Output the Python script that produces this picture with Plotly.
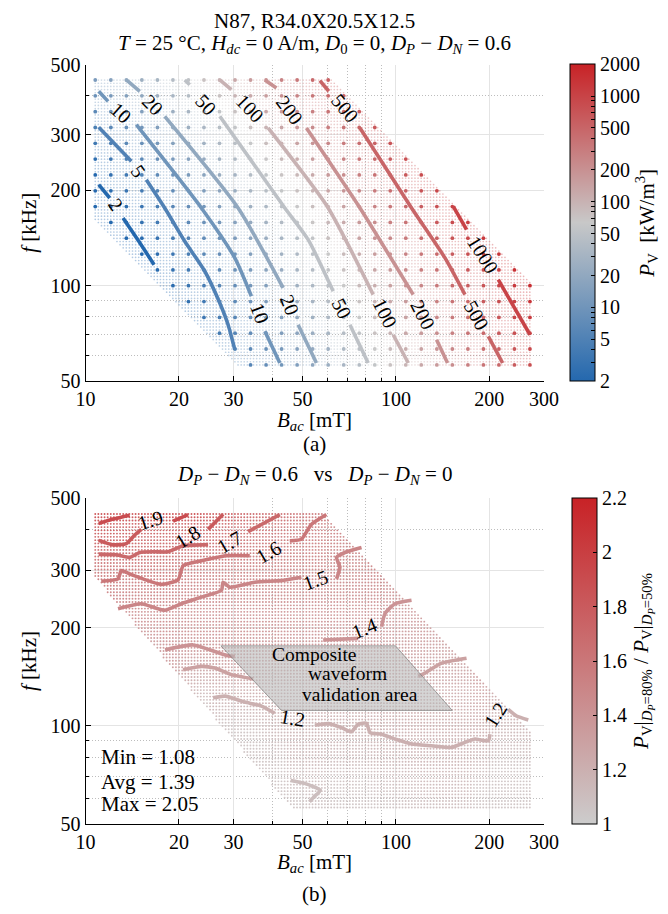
import numpy as np
import plotly.graph_objects as go

f_meas_kHz = [446.7, 398.1, 354.8, 316.2, 281.8, 251.2, 223.9, 199.5, 177.8, 158.5,
              141.3, 125.9, 112.2, 100.0, 89.1, 79.4, 70.8, 63.1, 56.2]
B_meas_mT = [10.75, 12.07, 13.54, 15.19, 17.05, 19.13, 21.46, 24.08, 27.02, 30.32,
             34.02, 38.17, 42.83, 48.06, 53.92, 60.5, 67.9, 76.2, 85.5, 95.9,
             107.6, 120.7, 135.5, 152.0, 170.6, 191.4, 214.7, 240.9, 270.3]
row_first_col = [0, 0, 0, 0, 0, 0, 0, 0, 0, 1, 2, 3, 4, 5, 6, 7, 8, 9, 10]
row_last_col = [15, 16, 17, 18, 19, 20, 21, 22, 23, 24, 25, 26, 27, 28, 28, 28, 28, 28, 28]

# iso-loss lines of (a): visible segments, B [mT] / f [kHz]
pv_levels = [2, 5, 10, 20, 50, 100, 200, 500, 1000]
pv2_B = [[11.03, 11.97], [13.21, 14.85, 16.63]]
pv2_f = [[208.6, 189.3], [163.7, 138.2, 116.5]]
pv5_B = [[11.03, 14.05], [15.70, 18.0, 20.88, 24.23, 27.08, 28.8, 30.27]]
pv5_f = [[316.7, 247.4], [216.3, 176.1, 138.2, 111.1, 88.2, 75.3, 62.8]]
pv10_B = [[11.03, 11.82], [14.58, 23.62, 30.27, 34.23], [37.83, 42.27]]
pv10_f = [[411.5, 382.4], [322.7, 176.1, 122.4, 92.6], [71.8, 57.0]]
pv20_B = [[13.54, 14.96], [18.0, 31.02, 43.33], [48.42, 55.46]]
pv20_f = [[446.7, 411.5], [343.0, 176.1, 98.4], [75.3, 57.0]]
pv50_B = [[20.88, 21.67], [27.08, 43.87, 52.16, 62.8], [71.1, 81.4]]
pv50_f = [[446.7, 431.7], [343.0, 176.1, 139.8, 96.0], [75.3, 57.0]]
pv100_B = [[27.08, 29.51], [38.75, 60.5, 84.5], [98.0, 109.6]]
pv100_f = [[446.7, 416.3], [315.1, 176.1, 93.7], [70.0, 57.0]]
pv200_B = [[37.83, 41.22], [51.5, 76.6, 113.7], [135.2, 146.7]]
pv200_f = [[446.7, 421.5], [315.1, 176.1, 93.7], [67.5, 57.0]]
pv500_B = [[56.9, 60.8], [76.6, 112.3, 143.9, 166.9], [198.5, 220.7]]
pv500_f = [[444.4, 411.5], [315.1, 176.1, 122.4, 93.7], [69.2, 57.0]]
pv1000_B = [[153.0, 168.9], [213.7, 270.4]]
pv1000_f = [[178.2, 150.3], [104.5, 70.0]]

pv_label_text = ["2", "5", "10", "10", "20", "20", "50", "50", "100", "100",
                 "200", "200", "500", "500", "1000"]
pv_label_B = [12.57, 14.77, 13.04, 36.45, 16.51, 45.54, 24.51, 66.8, 33.82, 92.2,
              45.54, 122.5, 68.5, 181.9, 191.2]
pv_label_f = [180.3, 229.9, 351.4, 82.0, 373.3, 87.1, 373.3, 85.05, 364.4, 82.0,
              359.9, 81.0, 364.4, 81.0, 125.3]

# ---------------- (b) loss-ratio lines ----------------
ratio_levels = [1.1, 1.2, 1.3, 1.4, 1.5, 1.6, 1.7, 1.8, 1.9]
r11_B = [[45.8, 51.1, 57.1, 54.4, 52.7]]
r11_f = [[68.0, 66.5, 63.4, 60.5, 58.5]]
r12_B = [[25.76, 28.13, 32.6, 36.9, 40.7],
         [54.8, 60.5, 66.8, 71.9, 75.6, 80.4, 82.5, 89.9, 99.3, 112.3, 130.3, 151.1,
          166.9, 179.8, 198.5, 200.9],
         [230.1, 244.8, 267.0]]
r12_f = [[121.9, 123.4, 118.3, 115.0, 109.3],
         [100.5, 101.6, 98.8, 95.9, 101.2, 101.9, 95.4, 94.3, 91.1, 88.0, 86.9, 85.9,
          89.0, 91.1, 90.0, 94.3],
         [112.4, 107.2, 104.3]]
r13_B = [[20.62, 23.62, 26.1, 29.5, 34.7], [118.0, 124.0, 140.3, 168.9]]
r13_f = [[148.7, 152.2, 150.4, 143.6, 139.3], [141.9, 145.2, 155.7, 161.3]]
r14_B = [[18.04, 22.22, 28.13, 30.27], [58.3, 75.6], [89.9, 92.2, 99.3, 112.3]]
r14_f = [[171.0, 177.1, 165.1, 163.2], [183.4, 185.5], [201.4, 221.0, 236.9, 242.7]]
r15_B = [[12.73, 15.13, 18.0, 20.36, 23.62, 27.41, 27.75, 29.17, 35.1, 42.78, 49.6],
         [64.4, 66.0, 64.4, 68.5, 77.5]]
r15_f = [[228.8, 236.9, 226.2, 236.9, 248.3, 260.3, 275.8, 266.3, 275.8, 279.1, 285.6],
         [282.3, 306.4, 328.6, 340.3, 352.4]]
r16_B = [[11.24, 12.73, 13.04, 14.05, 17.55, 19.87, 20.62, 22.22, 28.44, 33.82],
         [45.5, 49.6, 53.4, 59.7]]
r16_f = [[277.8, 282.3, 299.5, 291.1, 271.5, 280.3, 310.0, 317.2, 332.5, 332.5],
         [369.3, 373.5, 414.7, 444.8]]
r17_B = [[11.03, 12.54, 13.88, 14.96, 16.72, 18.45, 20.62, 24.83], [33.41, 42.27]]
r17_f = [[336.3, 334.9, 328.6, 340.3, 342.0, 342.0, 356.6, 359.8], [394.2, 444.8]]
r18_B = [[11.03, 12.27, 13.54, 14.41, 15.13], [24.83, 27.75]]
r18_f = [[370.8, 359.1, 362.4, 385.1, 400.6], [400.6, 446.0]]
r19_B = [[11.03, 12.36, 13.88], [19.15, 21.4]]
r19_f = [[417.7, 431.7, 443.0], [424.9, 444.8]]

ratio_label_text = ["1.9", "1.8", "1.7", "1.6", "1.5", "1.4", "1.2", "1.2"]
ratio_label_B = [16.2, 21.3, 29.2, 39.0, 55.0, 79.5, 46.5, 209.0]
ratio_label_f = [427.0, 380.0, 367.0, 342.0, 281.0, 199.0, 105.5, 108.0]

validation_B = [27.3, 99.7, 151.9, 42.8]
validation_f = [176.0, 176.0, 111.5, 111.5]

ratio_min, ratio_avg, ratio_max = 1.08, 1.39, 2.05

# ---------------- styling helpers ----------------
W, H = 668, 914
FONT = "Liberation Serif"
TICK = dict(family=FONT, size=20, color="black")
TXT = dict(family=FONT, size=21, color="black")
SMALL = dict(family=FONT, size=19.5, color="black")
TOP_Y = (56.5, 373.0)     # pixel rows of 500 / 50 kHz, panel (a)
BOT_Y = (490.0, 816.0)    # pixel rows of 500 / 50 kHz, panel (b)

cs_top = [[0.0, "rgb(36,104,174)"], [0.5, "rgb(200,200,200)"], [1.0, "rgb(200,34,38)"]]
cs_bot = [[0.0, "rgb(204,204,204)"], [1.0, "rgb(200,34,38)"]]


def cs_color(cs, t):
    t = min(max(t, 0.0), 1.0)
    for (t0, c0), (t1, c1) in zip(cs[:-1], cs[1:]):
        if t <= t1:
            a = np.array([float(v) for v in c0[4:-1].split(",")])
            b = np.array([float(v) for v in c1[4:-1].split(",")])
            u = 0 if t1 == t0 else (t - t0) / (t1 - t0)
            c = a + (b - a) * u
            return "rgb(%d,%d,%d)" % tuple(np.round(c))
    return cs[-1][1]


def flat(segs):
    return np.concatenate([np.asarray(s, float) for s in segs])


def joined(segs):
    out = []
    for i, s in enumerate(segs):
        if i:
            out.append(None)
        out.extend(s)
    return out


def extrap(x, xp, fp, slope0, lim):
    x = np.asarray(x, float)
    if len(xp) == 0:
        return np.full_like(x, np.nan)
    xp = np.asarray(xp, float)
    fp = np.asarray(fp, float)
    o = np.argsort(xp)
    xp, fp = xp[o], fp[o]
    if len(xp) == 1:
        return fp[0] + slope0 * (x - xp[0])
    y = np.interp(x, xp, fp)
    sl = (fp[1] - fp[0]) / max(xp[1] - xp[0], 1e-6)
    sr = (fp[-1] - fp[-2]) / max(xp[-1] - xp[-2], 1e-6)
    sl = min(max(sl, lim[0]), lim[1])
    sr = min(max(sr, lim[0]), lim[1])
    y = np.where(x < xp[0], fp[0] + sl * (x - xp[0]), y)
    y = np.where(x > xp[-1], fp[-1] + sr * (x - xp[-1]), y)
    return y


pv_B_all = [pv2_B, pv5_B, pv10_B, pv20_B, pv50_B, pv100_B, pv200_B, pv500_B, pv1000_B]
pv_f_all = [pv2_f, pv5_f, pv10_f, pv20_f, pv50_f, pv100_f, pv200_f, pv500_f, pv1000_f]
r_B_all = [r11_B, r12_B, r13_B, r14_B, r15_B, r16_B, r17_B, r18_B, r19_B]
r_f_all = [r11_f, r12_f, r13_f, r14_f, r15_f, r16_f, r17_f, r18_f, r19_f]

top_lines = []
for lvl, sb, sf in zip(pv_levels, pv_B_all, pv_f_all):
    b, f = list(flat(sb)), list(flat(sf))
    for t, lb, lf in zip(pv_label_text, pv_label_B, pv_label_f):
        if t == str(lvl):
            b.append(lb); f.append(lf)
    lb_, lf_ = np.log10(b), np.log10(f)
    o = np.argsort(lf_)
    top_lines.append((np.log10(lvl), lb_[o], lf_[o]))

bot_lines = []
for lvl, sb, sf in zip(ratio_levels, r_B_all, r_f_all):
    b, f = list(flat(sb)), list(flat(sf))
    for t, lb, lf in zip(ratio_label_text, ratio_label_B, ratio_label_f):
        if t == "%.1f" % lvl:
            b.append(lb); f.append(lf)
    lb_, lf_ = np.log10(b), np.log10(f)
    o = np.argsort(lb_)
    bot_lines.append((lvl, lb_[o], lf_[o]))


def top_logpv(lf, lB):
    xs, ys = [], []
    for ll, lb, lff in top_lines:
        if lff[0] - 0.025 <= lf <= lff[-1] + 0.025:
            xs.append(np.interp(lf, lff, lb)); ys.append(ll)
    return extrap(lB, xs, ys, 2.4, (1.8, 3.2))


def bot_ratio(lB, lf):
    xs, ys = [], []
    for lvl, lb, lff in bot_lines:
        if lb[0] - 0.015 <= lB <= lb[-1] + 0.015:
            xs.append(np.interp(lB, lb, lff)); ys.append(lvl)
    if not xs:
        return np.full_like(np.asarray(lf, float), 1.3)
    return np.clip(extrap(lf, xs, ys, 0.8, (0.3, 3.0)), ratio_min, ratio_max)


# ---------------- tables for the library ----------------
bx, by, bz = [], [], []
for r, fv in enumerate(f_meas_kHz):
    cols = list(range(row_first_col[r], row_last_col[r] + 1))
    Bs = np.array([B_meas_mT[c] for c in cols])
    z = top_logpv(np.log10(fv), np.log10(Bs))
    bx += list(Bs); by += [fv] * len(cols); bz += list(z)

lB_mesh = np.arange(np.log10(B_meas_mT[0]), np.log10(B_meas_mT[-1]) + 1e-9, 0.01)
lf_mesh = np.arange(np.log10(f_meas_kHz[-1]), np.log10(f_meas_kHz[0]) + 1e-9, 0.01)
LBm, LFm = np.meshgrid(lB_mesh, lf_mesh)
s = LBm + LFm
mask_a = (s >= np.log10(B_meas_mT[10] * f_meas_kHz[-1]) - 0.05) & \
         (s <= np.log10(B_meas_mT[15] * f_meas_kHz[0]) + 0.015)
za = np.zeros_like(LBm)
for i, lf in enumerate(lf_mesh):
    za[i] = top_logpv(lf, lB_mesh)

p1 = (np.log10(11.25), np.log10(272.8))
p2 = (np.log10(40.7), np.log10(65.2))
slope_ll = (p2[1] - p1[1]) / (p2[0] - p1[0])
mask_b = (LFm >= p1[1] + slope_ll * (LBm - p1[0]) - 0.004) & (s <= 4.42)
zb = np.zeros_like(LBm)
for j, lB in enumerate(lB_mesh):
    zb[:, j] = bot_ratio(lB, lf_mesh)

# ---------------- figure ----------------
fig = go.Figure()
top_ax = dict(xaxis="x", yaxis="y")
bot_ax = dict(xaxis="x2", yaxis="y2")

fig.add_trace(go.Scatter(
    x=10 ** LBm[mask_a], y=10 ** LFm[mask_a], mode="markers", hoverinfo="skip",
    marker=dict(size=1.7, color=za[mask_a], colorscale=cs_top, cmin=np.log10(2),
                cmax=np.log10(2000), opacity=0.35, line=dict(width=0)),
    showlegend=False, **top_ax))

cb_major = [2, 5, 10, 20, 50, 100, 200, 500, 1000, 2000]
cb_minor = [3, 4, 6, 7, 8, 9, 30, 40, 60, 70, 80, 90, 300, 400, 600, 700, 800, 900]
fig.add_trace(go.Scatter(
    x=bx, y=by, mode="markers", hoverinfo="skip", showlegend=False,
    marker=dict(size=3.8, color=bz, colorscale=cs_top, cmin=np.log10(2),
                cmax=np.log10(2000), line=dict(width=0),
                colorbar=dict(
                    x=562 / W, xanchor="left", y=1 - sum(TOP_Y) / 2 / H, yanchor="middle",
                    len=(TOP_Y[1] - TOP_Y[0]) / H, lenmode="fraction", thickness=25,
                    xpad=0, ypad=0, outlinewidth=1, outlinecolor="black",
                    tickvals=list(np.log10(cb_major + cb_minor)),
                    ticktext=[str(v) for v in cb_major] + [" "] * len(cb_minor),
                    ticks="inside", ticklen=4, tickcolor="black", tickfont=TICK,
                    title=dict(text="<i>P</i><sub>V</sub>  [kW/m<sup>3</sup>]",
                               side="right", font=TXT))),
    **top_ax))

for lvl, sb, sf in zip(pv_levels, pv_B_all, pv_f_all):
    col = cs_color(cs_top, (np.log10(lvl) - np.log10(2)) / 3.0)
    fig.add_trace(go.Scatter(x=joined(sb), y=joined(sf), mode="lines", hoverinfo="skip",
                             line=dict(color=col, width=3.6, shape="spline", smoothing=0.6),
                             showlegend=False, **top_ax))

fig.add_trace(go.Scatter(
    x=10 ** LBm[mask_b], y=10 ** LFm[mask_b], mode="markers", hoverinfo="skip",
    showlegend=False,
    marker=dict(size=1.9, color=zb[mask_b], colorscale=cs_bot, cmin=1, cmax=2.2,
                opacity=0.9, line=dict(width=0),
                colorbar=dict(
                    x=564 / W, xanchor="left", y=1 - sum(BOT_Y) / 2 / H, yanchor="middle",
                    len=(BOT_Y[1] - BOT_Y[0]) / H, lenmode="fraction", thickness=25,
                    xpad=0, ypad=0, outlinewidth=1, outlinecolor="black",
                    tickvals=[1, 1.2, 1.4, 1.6, 1.8, 2, 2.2],
                    ticktext=["1", "1.2", "1.4", "1.6", "1.8", "2", "2.2"],
                    ticks="inside", ticklen=4, tickcolor="black", tickfont=TICK,
                    title=dict(text="<i>P</i><sub>V</sub>|<sub><i>D<sub>P</sub></i>=80%</sub>"
                                    " / <i>P</i><sub>V</sub>|<sub><i>D<sub>P</sub></i>=50%</sub>",
                               side="right", font=TXT))),
    **bot_ax))

for lvl, sb, sf in zip(ratio_levels, r_B_all, r_f_all):
    col = cs_color(cs_bot, (lvl - 1.0) / 1.2)
    fig.add_trace(go.Scatter(x=joined(sb), y=joined(sf), mode="lines", hoverinfo="skip",
                             line=dict(color=col, width=3.6, shape="spline", smoothing=0.5),
                             showlegend=False, **bot_ax))

fig.add_trace(go.Scatter(
    x=validation_B + [validation_B[0]], y=validation_f + [validation_f[0]],
    mode="lines", fill="toself", fillcolor="rgba(185,185,185,0.6)",
    line=dict(color="rgba(120,120,120,0.8)", width=0.8), hoverinfo="skip",
    showlegend=False, **bot_ax))

# ---------------- axes ----------------
GRID_MINOR = dict(ticks="inside", ticklen=3, tickcolor="black", showgrid=True,
                  gridcolor="#bdbdbd", griddash="1px,2px", gridwidth=1)


def xax(anchor):
    return dict(type="log", range=[1, np.log10(300)], domain=[77.5 / W, 536 / W],
                anchor=anchor, tickvals=[10, 20, 30, 50, 100, 200, 300],
                ticktext=["10", "20", "30", "50", "100", "200", "300"],
                ticks="inside", ticklen=5, tickcolor="black", tickfont=TICK,
                showline=True, linecolor="black", linewidth=1, mirror=False,
                showgrid=True, gridcolor="#e4e4e4", gridwidth=1, zeroline=False,
                automargin=False,
                minor=dict(tickvals=[40, 60, 70, 80, 90], **GRID_MINOR))


def yax(anchor, rows):
    return dict(type="log", range=[np.log10(50), np.log10(500)],
                domain=[1 - rows[1] / H, 1 - rows[0] / H],
                anchor=anchor, tickvals=[50, 100, 200, 300, 500],
                ticktext=["50", "100", "200", "300", "500"],
                ticks="inside", ticklen=5, tickcolor="black", tickfont=TICK,
                showline=True, linecolor="black", linewidth=1, mirror=False,
                showgrid=True, gridcolor="#e4e4e4", gridwidth=1, zeroline=False,
                automargin=False,
                minor=dict(tickvals=[60, 70, 80, 90, 400], **GRID_MINOR))


ann = []
for t, b, f, a in zip(pv_label_text, pv_label_B, pv_label_f,
                      [56, 55, 42, 69, 45, 68, 47, 63, 46, 63, 53, 63, 50, 61, 58]):
    ann.append(dict(x=np.log10(b), y=np.log10(f), xref="x", yref="y", text=t,
                    textangle=a, showarrow=False, font=TICK))
for t, b, f, a in zip(ratio_label_text, ratio_label_B, ratio_label_f,
                      [-18, -32, -30, -30, -20, -22, 10, -58]):
    ann.append(dict(x=np.log10(b), y=np.log10(f), xref="x2", yref="y2", text=t,
                    textangle=a, showarrow=False, font=TICK))


def txt(text, xpx, ypx, angle=0, xanchor="center", font=TXT):
    ann.append(dict(x=xpx / W, y=1 - ypx / H, xref="paper", yref="paper", text=text,
                    showarrow=False, textangle=angle, xanchor=xanchor, yanchor="middle",
                    font=font))


def txt_b(text, B, f, xanchor="center", font=TXT):
    ann.append(dict(x=np.log10(B), y=np.log10(f), xref="x2", yref="y2", text=text,
                    showarrow=False, xanchor=xanchor, yanchor="middle", font=font))


txt("N87, R34.0X20.5X12.5", 306.8, 13)
txt("<i>T</i> = 25 °C, <i>H</i><sub><i>dc</i></sub> = 0 A/m, <i>D</i><sub>0</sub> = 0, "
    "<i>D<sub>P</sub></i> − <i>D<sub>N</sub></i> = 0.6", 306.8, 36)
txt("<i>f</i> [kHz]", 21, sum(TOP_Y) / 2, -90)
txt("<i>B</i><sub><i>ac</i></sub> [mT]", 306.8, 413)
txt("(a)", 306.8, 436)
txt("<i>D<sub>P</sub></i> − <i>D<sub>N</sub></i> = 0.6   vs   "
    "<i>D<sub>P</sub></i> − <i>D<sub>N</sub></i> = 0", 306.8, 467)
txt("<i>f</i> [kHz]", 21, sum(BOT_Y) / 2, -90)
txt("<i>B</i><sub><i>ac</i></sub> [mT]", 306.8, 855)
txt("(b)", 306.8, 886)

# text boxes inside panel (b), anchored to the panel's own axes
txt_b("Composite", 54.5, 166.0, font=SMALL)
txt_b("waveform", 70.0, 144.5, font=SMALL)
txt_b("validation area", 76.7, 124.8, font=SMALL)
txt_b("Min = %.2f" % ratio_min, 11.05, 80.5, xanchor="left")
txt_b("Avg = %.2f" % ratio_avg, 11.05, 67.3, xanchor="left")
txt_b("Max = %.2f" % ratio_max, 11.05, 57.4, xanchor="left")

fig.update_layout(
    width=W, height=H, margin=dict(l=0, r=0, t=0, b=0, autoexpand=False),
    paper_bgcolor="white", plot_bgcolor="white", showlegend=False,
    xaxis=xax("y"), yaxis=yax("x", TOP_Y),
    xaxis2=xax("y2"), yaxis2=yax("x2", BOT_Y),
    annotations=ann, font=TXT)

fig.write_html("out.html")
